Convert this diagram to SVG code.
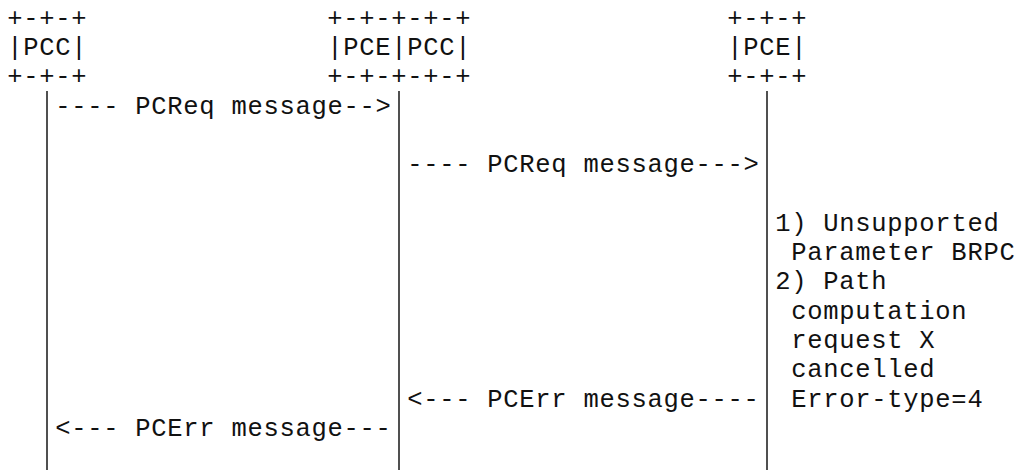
<svg xmlns="http://www.w3.org/2000/svg" width="1020" height="470" viewBox="0 0 1020 470">
  <style>
    text { font-family: "Liberation Mono", "Courier New", monospace; font-size: 25.5px; letter-spacing: 0.7px; fill: #111; white-space: pre; }
    .life { stroke: #505050; stroke-width: 2; fill: none; }
  </style>
  <rect width="1020" height="470" fill="#fff"/>

  <!-- every text cell is 16px wide -->
  <g transform="translate(0.35,0)">
    <!-- PCC (head-end) -->
    <g id="pcc-left">
      <text x="7" y="25.7">+-+-+</text>
      <text x="7" y="55">|PCC|</text>
      <text x="7" y="84.3">+-+-+</text>
    </g>

    <!-- PCE|PCC (intermediate) -->
    <g id="pce-pcc-mid">
      <text x="327" y="25.7">+-+-+-+-+</text>
      <text x="327" y="55">|PCE|PCC|</text>
      <text x="327" y="84.3">+-+-+-+-+</text>
    </g>

    <!-- PCE (downstream) -->
    <g id="pce-right">
      <text x="727" y="25.7">+-+-+</text>
      <text x="727" y="55">|PCE|</text>
      <text x="727" y="84.3">+-+-+</text>
    </g>

    <!-- messages between the lifelines -->
    <g id="messages">
      <text x="55" y="113.6">---- PCReq message--&gt;</text>
      <text x="407" y="172.2">---- PCReq message---&gt;</text>
      <text x="407" y="406.6">&lt;--- PCErr message----</text>
      <text x="55" y="435.9">&lt;--- PCErr message---</text>
    </g>

    <!-- error note beside the PCE lifeline -->
    <g id="error-note">
      <text x="775" y="230.8">1) Unsupported</text>
      <text x="791" y="260.1">Parameter BRPC</text>
      <text x="775" y="289.4">2) Path</text>
      <text x="791" y="318.7">computation</text>
      <text x="791" y="348">request X</text>
      <text x="791" y="377.3">cancelled</text>
      <text x="791" y="406.6">Error-type=4</text>
    </g>
  </g>

  <!-- lifelines -->
  <g id="connectors">
    <line class="life" x1="47" y1="91" x2="47" y2="470"/>
    <line class="life" x1="399" y1="91" x2="399" y2="470"/>
    <line class="life" x1="767" y1="91" x2="767" y2="470"/>
  </g>
</svg>
